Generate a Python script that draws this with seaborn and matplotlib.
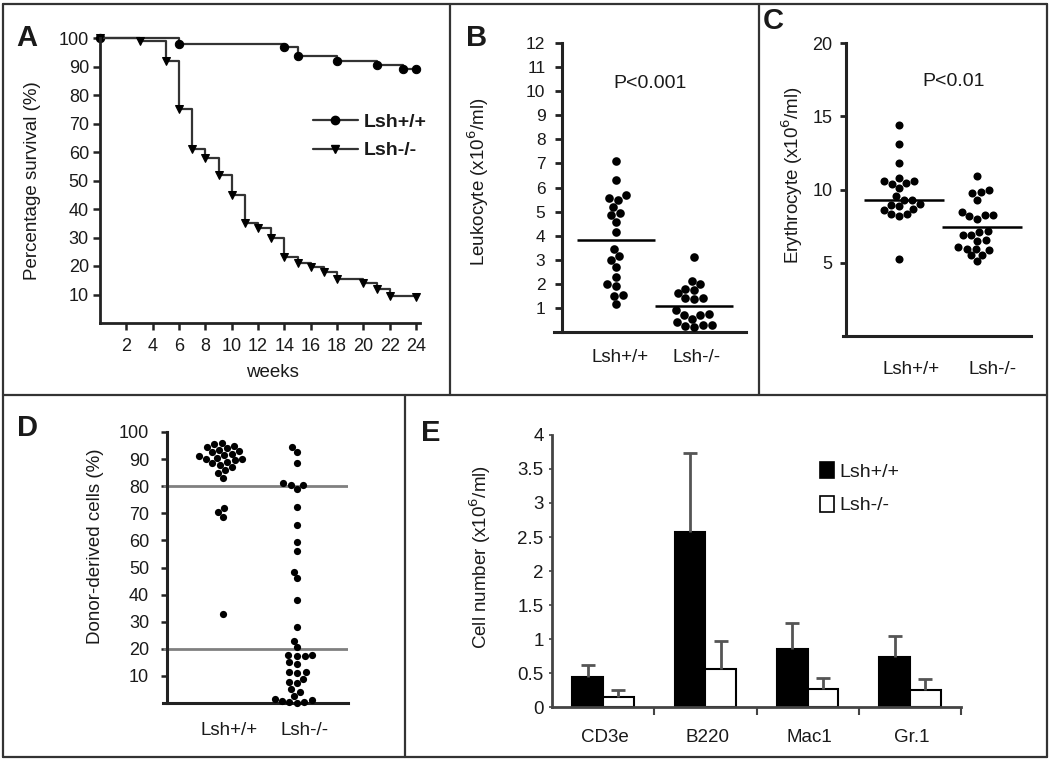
import matplotlib
matplotlib.use("Agg")
import matplotlib.pyplot as plt
from matplotlib.lines import Line2D
from matplotlib.patches import Patch
import numpy as np
import pandas as pd
import seaborn as sns

# ── data ─────────────────────────────────────────────────────────────────────
# A: survival (weeks, %)
weeks_wt = [0, 6, 14, 15, 18, 21, 23, 24]
surv_wt = [100, 98, 96.8, 93.7, 92, 90.5, 89, 89]
weeks_ko = [0, 3, 5, 6, 7, 8, 9, 10, 11, 12, 13, 14, 15, 16, 17, 18, 20, 21, 22, 24]
surv_ko = [100, 99, 92, 75, 61, 58, 52, 45, 35, 33.5, 30, 23, 21, 19.5, 18, 15.5, 14, 12, 9.5, 9]

# B: leukocyte
leuko_wt = [7.1, 6.3, 5.7, 5.55, 5.5, 5.2, 4.95, 4.85, 4.55, 4.15, 3.45, 3.15,
            3.0, 2.7, 2.3, 2.0, 1.9, 1.55, 1.5, 1.15]
leuko_ko = [3.1, 2.1, 2.0, 1.8, 1.75, 1.6, 1.4, 1.4, 1.35, 0.9, 0.75, 0.7,
            0.7, 0.55, 0.4, 0.3, 0.27, 0.25, 0.2]
leuko_bar = [3.8, 1.1]

# C: erythrocyte
ery_wt = [14.4, 13.1, 11.8, 10.8, 10.6, 10.6, 10.45, 10.4, 10.1, 9.55, 9.3, 9.3,
          9.0, 8.95, 8.85, 8.7, 8.6, 8.3, 8.3, 8.2, 5.25]
ery_ko = [10.9, 10.0, 9.8, 9.75, 9.3, 8.45, 8.25, 8.25, 8.2, 8.0, 7.15, 7.1,
          6.9, 6.9, 6.55, 6.5, 6.1, 5.95, 5.95, 5.9, 5.55, 5.5, 5.1]
ery_bar = [9.25, 7.45]

# D: donor-derived cells (%)
donor_wt = [96, 95.5, 95, 94.5, 94, 93.5, 93, 92.5, 92, 91.5, 91, 90.5, 90, 90,
            89.5, 89, 88.5, 88, 87, 86, 85, 83, 72, 70.5, 68.5, 33]
donor_ko = [94.5, 92.5, 88.5, 81, 80.5, 80.5, 79, 72.5, 65.5, 59.5, 56, 48.5, 46,
            38, 28, 23, 20.5, 17.8, 17.6, 17.4, 17.2, 15, 14.5, 11.5, 11.3, 11.1,
            9, 7.8, 7.5, 5, 4, 2.5, 1.5, 1.2, 0.8, 0.5, 0.3, 0.1]
donor_lines = [80, 20]

# E: cell number
cell_types = ["CD3e", "B220", "Mac1", "Gr.1"]
cell_wt = [0.44, 2.57, 0.85, 0.73]
cell_ko = [0.15, 0.56, 0.27, 0.25]
err_wt = [0.18, 1.16, 0.39, 0.31]
err_ko = [0.10, 0.41, 0.16, 0.16]

GENO = ["Lsh+/+", "Lsh-/-"]

# ── style ────────────────────────────────────────────────────────────────────
sns.set_theme(style="ticks")
plt.rcParams["font.family"] = ["Liberation Sans", "DejaVu Sans"]
plt.rcParams["text.color"] = "#1a1a1a"
plt.rcParams["axes.labelcolor"] = "#1a1a1a"
plt.rcParams["xtick.color"] = "#1a1a1a"
plt.rcParams["ytick.color"] = "#1a1a1a"

W, H = 1050, 761
fig = plt.figure(figsize=(W / 100, H / 100), dpi=100)
fig.patch.set_facecolor("white")
INK = "#222222"
LETTER = dict(fontsize=21, fontweight="bold", family=["Liberation Sans", "DejaVu Sans"],
              va="center", ha="left")


def place(x0, y0, x1, y1):
    return fig.add_axes([x0 / W, 1 - y1 / H, (x1 - x0) / W, (y1 - y0) / H])


def style_axes(ax, lw=2.0):
    for s in ["top", "right"]:
        ax.spines[s].set_visible(False)
    for s in ["left", "bottom"]:
        ax.spines[s].set_linewidth(lw)
        ax.spines[s].set_color(INK)
    ax.set_facecolor("none")


def fx(px):
    return px / W


def fy(py):
    return 1 - py / H


# ── panel borders ────────────────────────────────────────────────────────────
def border(x0, y0, x1, y1):
    fig.add_artist(Line2D([fx(x0), fx(x1)], [fy(y0), fy(y1)], color="#333333",
                          lw=1.6, transform=fig.transFigure))

border(3, 4, 1047, 4)
border(3, 757, 1047, 757)
border(3, 4, 3, 757)
border(1047, 4, 1047, 757)
border(3, 395, 1047, 395)
border(450, 4, 450, 395)
border(759, 4, 759, 395)
border(405, 395, 405, 757)

# ── A: survival ──────────────────────────────────────────────────────────────
axA = place(100, 38, 420, 323)
surv = pd.concat([
    pd.DataFrame({"weeks": weeks_wt, "surv": surv_wt, "geno": GENO[0]}),
    pd.DataFrame({"weeks": weeks_ko, "surv": surv_ko, "geno": GENO[1]}),
])
for g, mk, ms in [(GENO[0], "o", 6), (GENO[1], "v", 5.5)]:
    sns.lineplot(data=surv[surv["geno"] == g], x="weeks", y="surv", ax=axA,
                 drawstyle="steps-post", color="#333333", lw=1.6, marker=mk,
                 markersize=ms, markerfacecolor="black", markeredgecolor="black",
                 clip_on=False, estimator=None)
axA.set_xlim(0, 24.3)
axA.set_ylim(0, 100)
axA.set_xticks(range(2, 25, 2))
axA.set_yticks(range(10, 101, 10))
style_axes(axA)
axA.tick_params(axis="both", labelsize=13, width=1.8, length=5, color=INK)
axA.tick_params(axis="x", pad=6)
axA.tick_params(axis="y", pad=3)
axA.set_xlabel("weeks", fontsize=13.5)
axA.set_ylabel("Percentage survival (%)", fontsize=13.5)
axA.xaxis.set_label_coords(0.54, -0.145)
axA.yaxis.set_label_coords(-0.185, 0.5)
hA = [Line2D([], [], color="#333333", lw=1.6, marker="o", ms=6, mfc="black", mec="black"),
      Line2D([], [], color="#333333", lw=1.6, marker="v", ms=5.5, mfc="black", mec="black")]
axA.legend(hA, GENO, loc="upper left", bbox_to_anchor=(0.665, 0.735), frameon=False,
           handlelength=2.3, handletextpad=0.3, labelspacing=0.55, borderpad=0,
           borderaxespad=0, numpoints=1, prop={"weight": "bold", "size": 14})
fig.text(fx(16), fy(38), "A", **LETTER)


# ── scatter panels (B, C, D) ─────────────────────────────────────────────────
def dot_panel(ax, wt, ko, size):
    df = pd.concat([pd.DataFrame({"geno": GENO[0], "v": wt}),
                    pd.DataFrame({"geno": GENO[1], "v": ko})])
    sns.swarmplot(data=df, x="geno", y="v", order=GENO, color="black",
                  size=size, linewidth=0, ax=ax, clip_on=False)
    ax.set_xlabel("")
    style_axes(ax, lw=2.2)


# B
axB = place(554, 43, 746, 332)
dot_panel(axB, leuko_wt, leuko_ko, 6.2)
axB.hlines(leuko_bar, [-0.5, 0.5], [0.5, 1.5], color="black", lw=1.8)
axB.set_xlim(-0.795, 1.667)
axB.set_ylim(0, 12)
axB.set_yticks(range(1, 13))
axB.spines["left"].set_position(("outward", -5.8))
axB.tick_params(axis="y", labelsize=12.5, width=2, length=5, pad=7, color=INK)
axB.tick_params(axis="x", labelsize=13.5, length=0, pad=12)
axB.set_xticks([0.05, 1.03], GENO)
axB.set_ylabel("Leukocyte (x10$^6$/ml)", fontsize=13.5)
axB.yaxis.set_label_coords(-0.33, 0.52)
axB.text(0.5, 0.86, "P<0.001", transform=axB.transAxes, ha="center", va="center",
         fontsize=14)
fig.text(fx(466), fy(38), "B", **LETTER)

# C
axC = place(843, 43, 1031, 336)
dot_panel(axC, ery_wt, ery_ko, 5.8)
axC.hlines(ery_bar, [-0.45, 0.55], [0.58, 1.58], color="black", lw=1.8)
axC.set_xlim(-0.72, 1.69)
axC.set_ylim(0, 20)
axC.set_yticks([5, 10, 15, 20])
axC.spines["left"].set_position(("outward", -2.5))
axC.tick_params(axis="y", labelsize=13, width=2, length=4, pad=6, color=INK)
axC.tick_params(axis="x", labelsize=13.5, length=0, pad=18)
axC.set_xticks([0.15, 1.2], GENO)
axC.set_ylabel("Erythrocyte (x10$^6$/ml)", fontsize=13.5)
axC.yaxis.set_label_coords(-0.2, 0.55)
axC.text(0.59, 0.87, "P<0.01", transform=axC.transAxes, ha="center", va="center",
         fontsize=14)
fig.text(fx(763), fy(21), "C", **LETTER)

# D
axD = place(163, 432, 348, 703)
dot_panel(axD, donor_wt, donor_ko, 5.2)
axD.hlines(donor_lines, -0.81, 1.69, color="#808080", lw=2)
axD.set_xlim(-0.81, 1.69)
axD.set_ylim(0, 100)
axD.set_yticks(range(10, 101, 10))
axD.spines["left"].set_position(("outward", -3))
axD.tick_params(axis="y", labelsize=13, width=1.8, length=4, pad=9, color=INK)
axD.tick_params(axis="x", labelsize=13.5, length=0, pad=14)
axD.set_xticks([0.08, 1.1], GENO)
axD.set_ylabel("Donor-derived cells (%)", fontsize=13.5)
axD.yaxis.set_label_coords(-0.32, 0.58)
fig.text(fx(17), fy(428), "D", **LETTER)

# ── E: bar chart ─────────────────────────────────────────────────────────────
axE = place(552, 435, 961, 707)
cells = pd.DataFrame({
    "cell": cell_types * 2,
    "geno": [GENO[0]] * 4 + [GENO[1]] * 4,
    "v": cell_wt + cell_ko,
})
sns.barplot(data=cells, x="cell", y="v", hue="geno", order=cell_types, hue_order=GENO,
            palette={GENO[0]: "black", GENO[1]: "white"}, edgecolor="black",
            linewidth=1.5, width=0.6, errorbar=None, legend=False, ax=axE)
pos = np.arange(len(cell_types))
zeros = np.zeros(len(cell_types))
for offset, vals, errs in [(-0.15, cell_wt, err_wt), (0.15, cell_ko, err_ko)]:
    eb = axE.errorbar(pos + offset, vals, yerr=[zeros, errs], fmt="none",
                      ecolor="#555555", elinewidth=2, capsize=5, capthick=2, zorder=5)
    eb[1][0].set_visible(False)  # hide the cap sitting on the bar top
axE.set_xlim(-0.5, 3.5)
axE.set_ylim(0, 4)
axE.set_yticks(np.arange(0, 4.01, 0.5), ["0", "0.5", "1", "1.5", "2", "2.5", "3", "3.5", "4"])
axE.set_xticks(pos + 0.02, cell_types)
axE.set_xticks([0.5, 1.5, 2.5, 3.5], minor=True)
style_axes(axE, lw=2)
axE.spines["left"].set_color("#444444")
axE.spines["bottom"].set_color("#444444")
axE.tick_params(axis="y", labelsize=13.5, width=1.2, length=2, pad=4, color="#444444")
axE.tick_params(axis="x", which="major", labelsize=13.5, length=0, pad=16)
axE.tick_params(axis="x", which="minor", length=6, width=1.5, color="#444444")
axE.set_xlabel("")
axE.set_ylabel("Cell number (x10$^6$/ml)", fontsize=13.5)
axE.yaxis.set_label_coords(-0.145, 0.55)
hE = [Patch(facecolor="black", edgecolor="black", lw=1.2),
      Patch(facecolor="white", edgecolor="black", lw=1.2)]
axE.legend(hE, GENO, loc="upper left", bbox_to_anchor=(0.655, 0.9), frameon=False,
           handlelength=0.75, handleheight=0.9, handletextpad=0.25, labelspacing=0.75,
           borderpad=0, borderaxespad=0, fontsize=14)
fig.text(fx(421), fy(433), "E", **LETTER)

fig.savefig("out.png", dpi=100, facecolor="white")
